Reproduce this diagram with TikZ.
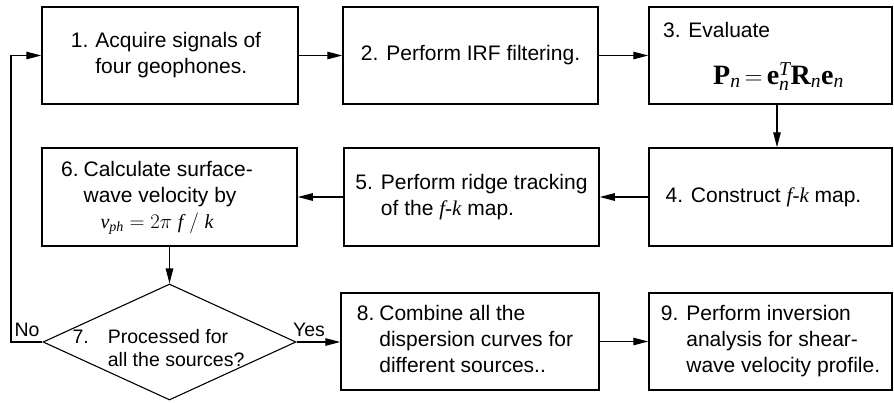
\documentclass[tikz,border=0pt]{standalone}
\usepackage{amsmath}
\usepackage{fontspec}
\setmainfont{Liberation Serif}
\newfontfamily\arial{Liberation Sans}
\usetikzlibrary{shapes.geometric,arrows.meta}

% italic serif for the f-k symbol inside sans text
\newcommand{\fk}{{\rmfamily\itshape f-k}}

\begin{document}
\begin{tikzpicture}[x=1pt,y=-1pt,
  stepbox/.style={draw, rectangle, line width=1.5pt, inner sep=0pt,
    font=\arial\fontsize{21pt}{26pt}\selectfont},
  row1/.style={stepbox, minimum height=97pt},
  row2/.style={stepbox, minimum height=98pt},
  row3/.style={stepbox, minimum height=97pt},
  decision/.style={diamond, draw, line width=1.1pt, inner sep=0pt,
    minimum width=253pt, minimum height=116pt},
  qtext/.style={inner sep=0pt, font=\arial\fontsize{19.5pt}{23pt}\selectfont},
  lbl/.style={inner sep=0pt, font=\arial\fontsize{19.5pt}{23pt}\selectfont},
  arr/.style={line width=1.2pt, -{Triangle[length=15pt,width=7.5pt]}}]

\useasboundingbox (0,0) rectangle (894,402);

% ---- first row ----
\node[row1, minimum width=256pt] (b1) at (170,55.5)
  {\begin{tabular}{@{}l@{\hspace{7pt}}l@{}}1. & Acquire signals of\\ & four geophones.\end{tabular}\hspace*{8pt}};
\node[row1, minimum width=255pt] (b2) at (470.5,55.5)
  {\begin{tabular}{@{}l@{\hspace{8pt}}l@{}}2. & Perform IRF filtering.\end{tabular}};
\node[row1, minimum width=243pt] (b3) at (770.5,55.5)
  {\begin{tabular}{@{}l@{}}3. Evaluate\\[17pt]
   \hspace*{50pt}{\rmfamily\fontsize{28pt}{30pt}\selectfont
   $\textbf{P}_{\textit{n}}\mkern-2mu=\mkern-2mu\textbf{e}_{\textit{n}}^{\textit{T}}\textbf{R}_{\textit{n}}\textbf{e}_{\textit{n}}$}\end{tabular}\hspace*{34pt}};

% ---- second row ----
\node[row2, minimum width=255pt] (b6) at (169.5,197)
  {\begin{tabular}{@{}l@{\hspace{5pt}}l@{}}6. & Calculate surface-\\ & wave velocity by\\
   \multicolumn{2}{@{}c@{}}{\rmfamily\fontsize{20pt}{22pt}\selectfont
   $\textit{v}_{\textit{ph}}=2\pi\;\textit{f}\;/\;\textit{k}$}\end{tabular}\hspace*{25pt}};
\node[row2, minimum width=255pt] (b5) at (471.5,197)
  {\begin{tabular}{@{}l@{\hspace{8pt}}l@{}}5. & Perform ridge tracking\\ & of the \fk{} map.\end{tabular}};
\node[row2, minimum width=243pt] (b4) at (770.5,197)
  {4. Construct \fk{} map.\hspace*{14pt}};

% ---- third row ----
\node[decision] (d7) at (169.5,342) {};
\node[qtext] (t7) at ([xshift=-11pt,yshift=-8pt]d7.center)
  {\begin{tabular}{@{}l@{\hspace{19pt}}l@{}}7. & Processed for\\ & all the sources?\end{tabular}};
\node[row3, minimum width=258pt] (b8) at (470,341.5)
  {\begin{tabular}{@{}l@{\hspace{5pt}}l@{}}8. & Combine all the\\ & dispersion curves for\\ & different sources..\end{tabular}\hspace*{10pt}};
\node[row3, minimum width=243pt] (b9) at (770.5,341.5)
  {\begin{tabular}{@{}l@{\hspace{8pt}}l@{}}9. & Perform inversion\\ & analysis for shear-\\ & wave velocity profile.\end{tabular}};

\node[lbl, anchor=base] (no) at (27,336) {No};
\node[lbl, anchor=base] (yes) at (309,336) {Yes};

% ---- connectors ----
\draw[arr] (b1) -- (b2);
\draw[arr] (b2) -- (b3);
\draw[arr] ([xshift=6.5pt]b3.south) -- ([xshift=6.5pt]b4.north);
\draw[arr] (b4) -- (b5);
\draw[arr] (b5) -- (b6);
\draw[arr] (b6) -- (d7);
\draw[arr] (d7.east) -- (d7.east -| b8.west);
\draw[arr] (b8) -- (b9);
\coordinate (loop) at (11,342);
\draw[arr] (d7.west) -- (loop) |- (b1.west);
\end{tikzpicture}
\end{document}
